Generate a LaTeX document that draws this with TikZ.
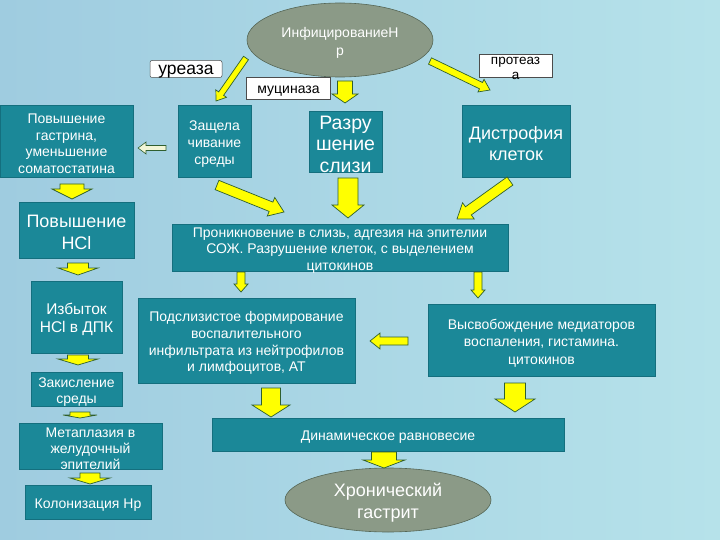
\documentclass[tikz,border=0pt]{standalone}
\usepackage{fontspec}
\setmainfont{Liberation Sans}
\usetikzlibrary{calc,shapes.geometric}
\definecolor{bgL}{HTML}{9FCCE0}
\definecolor{bgR}{HTML}{B6E2EA}
\definecolor{boxfill}{HTML}{1B8898}
\definecolor{boxline}{HTML}{146F7E}
\definecolor{ovalfill}{HTML}{8B9A87}
\definecolor{ovalline}{HTML}{556655}
\definecolor{ayellow}{HTML}{FFFF00}
\definecolor{aline}{HTML}{2F5F2F}
\definecolor{apale}{HTML}{F2F6D6}
\newcommand{\fs}[2]{\fontsize{#1}{#2}\selectfont}
\newcommand{\barrow}[6][yarrow]{%
  \draw[#1] let \p1=(#2), \p2=(#3),
    \n1={atan2(\y2-\y1,\x2-\x1)},
    \n2={veclen(\x2-\x1,\y2-\y1)-#6} in
    ($(\p1)+(\n1+90:#4pt)$) --
    ($(\p1)+(\n1:\n2)+(\n1+90:#4pt)$) --
    ($(\p1)+(\n1:\n2)+(\n1+90:#5pt)$) --
    (\p2) --
    ($(\p1)+(\n1:\n2)+(\n1-90:#5pt)$) --
    ($(\p1)+(\n1:\n2)+(\n1-90:#4pt)$) --
    ($(\p1)+(\n1-90:#4pt)$) -- cycle;
}
% shape node + its text (text set slightly lower, as in the reference)
\newcommand{\bx}[7][box]{%
  \node[#1, minimum width=#4pt, minimum height=#5pt] (#2) at (#3) {};
  \node[btext, #6] (#2-t) at ($(#2.center)+(0,2.8)$) {#7};
}
\begin{document}
\begin{tikzpicture}[x=1pt,y=-1pt,
  box/.style={draw=boxline, fill=boxfill, inner sep=0pt, line width=0.6pt},
  lbl/.style={draw=black!70, fill=white, inner sep=0pt, line width=0.5pt},
  oval/.style={ellipse, draw=ovalline, fill=ovalfill, inner sep=0pt, line width=0.6pt},
  btext/.style={text=white, align=center, inner sep=0pt},
  yarrow/.style={fill=ayellow, draw=aline, line width=0.7pt, line join=miter},
  parrow/.style={fill=apale, draw=aline, line width=0.6pt, line join=miter}]
\shade[left color=bgL, right color=bgR] (0,0) rectangle (720,540);
\useasboundingbox (0,0) rectangle (720,540);

% nodes
\bx[oval]{infect}{340,40}{186}{74}{font=\fs{14}{18}}{ИнфицированиеН\\р}
\bx[lbl, rounded corners=2pt]{urease}{186,69}{72}{17}{font=\fs{17.5}{15}, text=black}{уреаза}
\bx[lbl]{mucinase}{288.5,88}{84}{22}{font=\fs{14}{15}, text=black}{муциназа}
\bx[lbl]{protease}{515.5,65.5}{73}{23}{font=\fs{13.5}{15}, text=black}{протеаз\\а}

\bx{gastrin}{66.5,141}{133}{72}{font=\fs{14}{16.5}}{Повышение\\гастрина,\\уменьшение\\соматостатина}
\bx{alkal}{214.5,141}{73}{72}{font=\fs{14}{17}}{Защела\\чивание\\среды}
\bx{mucus}{345.5,141.5}{73}{61}{font=\fs{19.5}{21.5}}{Разру\\шение\\слизи}
\bx{dystr}{516,141}{108}{72}{font=\fs{18}{21}}{Дистрофия\\клеток}

\bx{penetr}{340,247.5}{336}{47}{font=\fs{14}{16.5}}{Проникновение в слизь, адгезия на эпителии\\СОЖ. Разрушение клеток, с выделением\\цитокинов}

\bx{hcl}{76.5,230}{115}{56}{font=\fs{18}{22}}{Повышение\\HCl}
\bx{excess}{76.5,317}{91}{72}{font=\fs{15.5}{18}}{Избыток\\HCl в ДПК}
\bx{acid}{76.5,389}{91}{34}{font=\fs{14}{16}}{Закисление\\среды}
\bx{metapl}{90.5,446}{143}{46}{font=\fs{14}{16}}{Метаплазия в\\желудочный\\эпителий}
\bx{colon}{88,502}{126}{34}{font=\fs{14}{16.5}}{Колонизация Нр}

\bx{infiltr}{246.5,340.5}{217}{85}{font=\fs{14}{16.7}}{Подслизистое формирование\\воспалительного\\инфильтрата из нейтрофилов\\и лимфоцитов, АТ}
\bx{release}{541.5,340}{227}{72}{font=\fs{14}{17.5}}{Высвобождение медиаторов\\воспаления, гистамина.\\цитокинов}
\bx{dynam}{388,434.5}{352}{33}{font=\fs{14}{16.5}}{Динамическое равновесие}
\bx[oval]{chronic}{388,500}{206}{64}{font=\fs{18}{22}}{Хронический\\гастрит}

% arrow end points
\coordinate (a1s) at (246,58);  \coordinate (a1e) at (216,101);
\coordinate (a2s) at (345,81);  \coordinate (a2e) at (345,103);
\coordinate (a3s) at (430,61);  \coordinate (a3e) at (490,90);
\coordinate (a4s) at (166,148); \coordinate (a4e) at (138,148);
\coordinate (a5s) at (72,184);  \coordinate (a5e) at (72,199);
\coordinate (a6s) at (217,185); \coordinate (a6e) at (284,212);
\coordinate (a7s) at (348,178); \coordinate (a7e) at (348,218);
\coordinate (a8s) at (510,181); \coordinate (a8e) at (457,219);
\coordinate (a9s) at (241,272); \coordinate (a9e) at (241,292);
\coordinate (a10s) at (478,272); \coordinate (a10e) at (478,298);
\coordinate (a11s) at (408,341); \coordinate (a11e) at (370,341);
\coordinate (a12s) at (271,388); \coordinate (a12e) at (271,417);
\coordinate (a13s) at (515,383); \coordinate (a13e) at (515,412);
\coordinate (a14s) at (384,452); \coordinate (a14e) at (384,468);
\coordinate (a15s) at (78,263);  \coordinate (a15e) at (78,275);
\coordinate (a16s) at (78,355);  \coordinate (a16e) at (78,365);
\coordinate (a17s) at (80,412);  \coordinate (a17e) at (80,418);
\coordinate (a18s) at (90,473);  \coordinate (a18e) at (90,484);

% arrows
\barrow{a1s}{a1e}{3}{6.5}{9}
\barrow{a2s}{a2e}{7.5}{13}{9}
\barrow{a3s}{a3e}{3.5}{7}{10}
\barrow[parrow]{a4s}{a4e}{2.5}{6}{8}
\barrow{a5s}{a5e}{12}{20}{10}
\barrow{a6s}{a6e}{5}{10}{14}
\barrow{a7s}{a7e}{10}{16}{13}
\barrow{a8s}{a8e}{5}{10}{14}
\barrow{a9s}{a9e}{4}{7}{8}
\barrow{a10s}{a10e}{4}{7}{8}
\barrow{a11s}{a11e}{4}{8}{10}
\barrow{a12s}{a12e}{9.5}{19}{12}
\barrow{a13s}{a13e}{10.5}{20}{13}
\barrow{a14s}{a14e}{12.5}{21}{8}
\barrow{a15s}{a15e}{10.5}{20}{7}
\barrow{a16s}{a16e}{10.5}{20}{6}
\barrow{a17s}{a17e}{10}{17}{3}
\barrow{a18s}{a18e}{10}{20}{6}
\end{tikzpicture}
\end{document}
